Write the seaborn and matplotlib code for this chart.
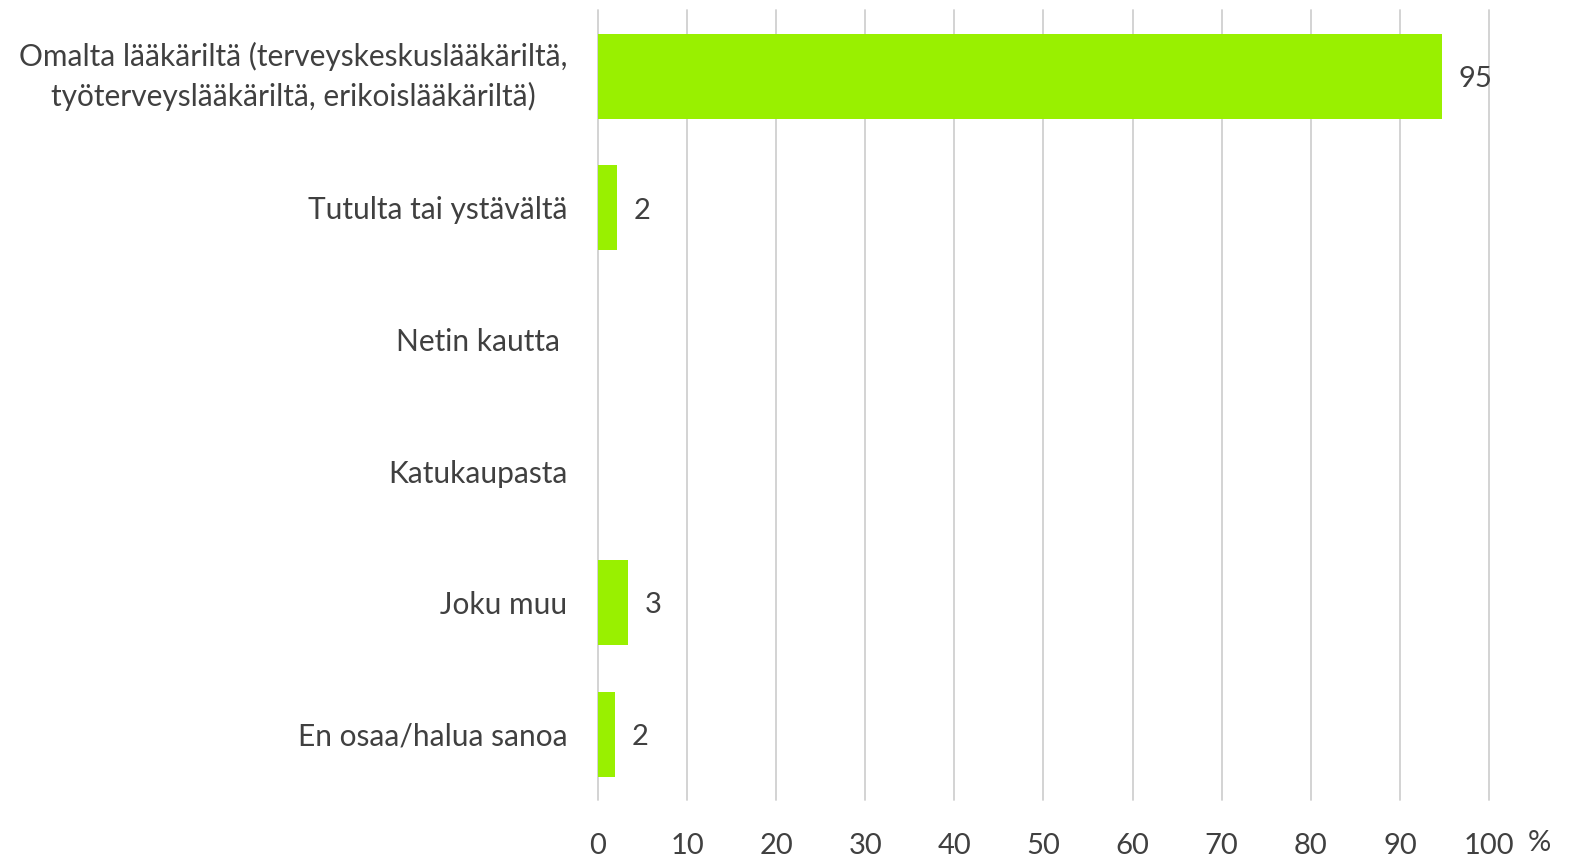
import numpy as np
import pandas as pd
import matplotlib
matplotlib.use("Agg")
import matplotlib.pyplot as plt
import matplotlib.transforms as mtransforms
import seaborn as sns

categories = [
    "Omalta lääkäriltä (terveyskeskuslääkäriltä,\ntyöterveyslääkäriltä, erikoislääkäriltä)",
    "Tutulta tai ystävältä",
    "Netin kautta ",
    "Katukaupasta",
    "Joku muu",
    "En osaa/halua sanoa",
]
values = [94.7, 2.1, 0, 0, 3.4, 1.9]
labels = ["95", "2", "", "", "3", "2"]
x_ticks = [0, 10, 20, 30, 40, 50, 60, 70, 80, 90, 100]

df = pd.DataFrame({"kategoria": categories, "arvo": values})

sns.set_theme(style="white")
plt.rcParams["font.family"] = ["Lato", "DejaVu Sans"]
text_color = "#404040"

fig, ax = plt.subplots(figsize=(15.76, 8.64), dpi=100)
fig.subplots_adjust(left=0.3794, right=0.9448, top=0.988, bottom=0.074)

sns.barplot(data=df, x="arvo", y="kategoria", orient="h", color="#99F000",
            saturation=1, width=0.645, linewidth=0, ax=ax, zorder=3)

ax.set_xlim(0, 100)
ax.set_xticks(x_ticks)
ax.set_xticklabels([str(t) for t in x_ticks])
ax.grid(axis="x", color="#D0D0D0", linewidth=1.3, zorder=0)
ax.grid(axis="y", visible=False)
ax.set_axisbelow(True)
for gl in ax.get_xgridlines():
    gl.set_clip_on(False)
for s in ax.spines.values():
    s.set_visible(False)
ax.set_xlabel("")
ax.set_ylabel("")
ax.tick_params(axis="x", length=0, pad=24, labelsize=21, labelcolor=text_color)
ax.tick_params(axis="y", length=0, pad=22, labelsize=21.5, labelcolor=text_color)
for lab in ax.get_yticklabels():
    lab.set_multialignment("center")
    lab.set_linespacing(1.45)
    if "\n" in lab.get_text():
        lab.set_verticalalignment("center")

for i, (v, t) in enumerate(zip(values, labels)):
    if t:
        ax.annotate(t, (v, i), xytext=(12, -2), textcoords="offset points",
                    va="center", ha="left", fontsize=21, color=text_color)

trans = mtransforms.blended_transform_factory(ax.transData, ax.transAxes)
ax.text(104.3, -0.054, "%", transform=trans, ha="left", va="center",
        fontsize=21, color=text_color)

fig.savefig("out.png", dpi=100)
